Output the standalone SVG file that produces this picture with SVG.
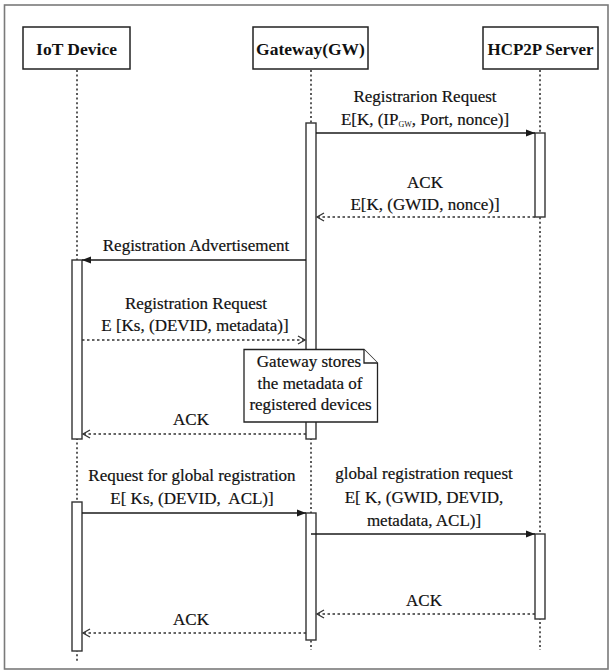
<svg xmlns="http://www.w3.org/2000/svg" width="613" height="671" viewBox="0 0 613 671">
  <defs>
    <style>
      .frame { fill: #ffffff; stroke: #7a7a7a; stroke-width: 1.6; }
      .head rect { fill: #ffffff; stroke: #222; stroke-width: 1.5; }
      .head text { font-family: "Liberation Serif", "Times New Roman", serif; font-weight: bold; font-size: 17.5px; fill: #111; text-anchor: middle; }
      .life { stroke: #333; stroke-width: 1.6; stroke-dasharray: 2 2.6; fill: none; }
      .bar { fill: #ffffff; stroke: #333; stroke-width: 1.4; }
      .msg { stroke: #1a1a1a; stroke-width: 1.3; fill: none; }
      .ret { stroke: #333; stroke-width: 1.4; stroke-dasharray: 2.5 2.5; fill: none; }
      .lbl { font-family: "Liberation Serif", "Times New Roman", serif; font-size: 17px; fill: #111; stroke: #111; stroke-width: 0.2; text-anchor: middle; }
      .note path { fill: #ffffff; stroke: #222; stroke-width: 1.3; }
    </style>
    <marker id="solidHead" markerWidth="10" markerHeight="8" refX="9" refY="4" orient="auto" markerUnits="userSpaceOnUse">
      <path d="M0,0.5 L9,4 L0,7.5 Z" fill="#1a1a1a"/>
    </marker>
    <marker id="openHead" markerWidth="10" markerHeight="10" refX="8" refY="5" orient="auto" markerUnits="userSpaceOnUse">
      <path d="M1,1 L8,5 L1,9" fill="none" stroke="#333" stroke-width="1.3"/>
    </marker>
  </defs>

  <!-- outer frame -->
  <rect class="frame" x="4.5" y="5" width="603.5" height="664"/>

  <!-- lifelines -->
  <g id="lifelines">
    <line class="life" x1="77" y1="70" x2="77" y2="661"/>
    <line class="life" x1="311" y1="70" x2="311" y2="650"/>
    <line class="life" x1="540" y1="70" x2="540" y2="650"/>
  </g>

  <!-- participants -->
  <g id="iot-device" class="head">
    <rect x="23" y="27" width="107" height="42"/>
    <text x="76.5" y="55">IoT Device</text>
  </g>
  <g id="gateway" class="head">
    <rect x="253" y="27" width="115" height="42"/>
    <text x="310.5" y="55">Gateway(GW)</text>
  </g>
  <g id="hcp2p-server" class="head">
    <rect x="483" y="27" width="115" height="42"/>
    <text x="540.5" y="55" textLength="106" lengthAdjust="spacingAndGlyphs">HCP2P Server</text>
  </g>

  <!-- activation bars -->
  <g id="activations">
    <rect class="bar" x="306" y="123" width="10" height="316"/>
    <rect class="bar" x="535" y="133" width="10" height="84"/>
    <rect class="bar" x="72" y="260" width="10" height="179"/>
    <rect class="bar" x="72" y="502" width="10" height="149"/>
    <rect class="bar" x="306" y="513" width="10" height="127"/>
    <rect class="bar" x="535" y="534" width="10" height="85"/>
  </g>

  <!-- messages -->
  <g id="connectors">
    <line class="msg" x1="316" y1="133" x2="535" y2="133" marker-end="url(#solidHead)"/>
    <line class="ret" x1="535" y1="217" x2="317" y2="217" marker-end="url(#openHead)"/>
    <line class="msg" x1="306" y1="260" x2="82" y2="260" marker-end="url(#solidHead)"/>
    <line class="ret" x1="82" y1="340" x2="305" y2="340" marker-end="url(#openHead)"/>
    <line class="ret" x1="306" y1="434" x2="83" y2="434" marker-end="url(#openHead)"/>
    <line class="msg" x1="82" y1="513" x2="306" y2="513" marker-end="url(#solidHead)"/>
    <line class="msg" x1="311" y1="534" x2="535" y2="534" marker-end="url(#solidHead)"/>
    <line class="ret" x1="535" y1="614" x2="317" y2="614" marker-end="url(#openHead)"/>
    <line class="ret" x1="306" y1="633" x2="83" y2="633" marker-end="url(#openHead)"/>
  </g>

  <!-- message labels -->
  <g id="labels">
    <text class="lbl" x="425" y="102">Registrarion Request</text>
    <text class="lbl" x="425" y="125">E[K, (IP<tspan font-size="8" stroke-width="0" dy="2">GW</tspan><tspan dy="-2">, Port, nonce)]</tspan></text>
    <text class="lbl" x="425" y="188">ACK</text>
    <text class="lbl" x="425" y="210">E[K, (GWID, nonce)]</text>
    <text class="lbl" x="196" y="251">Registration Advertisement</text>
    <text class="lbl" x="196" y="309">Registration Request</text>
    <text class="lbl" x="195" y="331">E [Ks, (DEVID, metadata)]</text>
    <text class="lbl" x="191" y="425">ACK</text>
    <text class="lbl" x="192" y="481">Request for global registration</text>
    <text class="lbl" x="192" y="504">E[ Ks, (DEVID,&#160; ACL)]</text>
    <text class="lbl" x="424" y="479">global registration request</text>
    <text class="lbl" x="424" y="503">E[ K, (GWID, DEVID,</text>
    <text class="lbl" x="424" y="526">metadata, ACL)]</text>
    <text class="lbl" x="424" y="606">ACK</text>
    <text class="lbl" x="191" y="625">ACK</text>
  </g>

  <!-- note on the gateway -->
  <g id="note" class="note">
    <path d="M244,349.5 L364,349.5 L377.5,363 L377.5,422 L244,422 Z"/>
    <path d="M364,349.5 L364,363 L377.5,363"/>
    <text class="lbl" x="309" y="366.5">Gateway stores</text>
    <text class="lbl" x="310" y="388.5">the metadata of</text>
    <text class="lbl" x="310.5" y="410">registered devices</text>
  </g>
</svg>
